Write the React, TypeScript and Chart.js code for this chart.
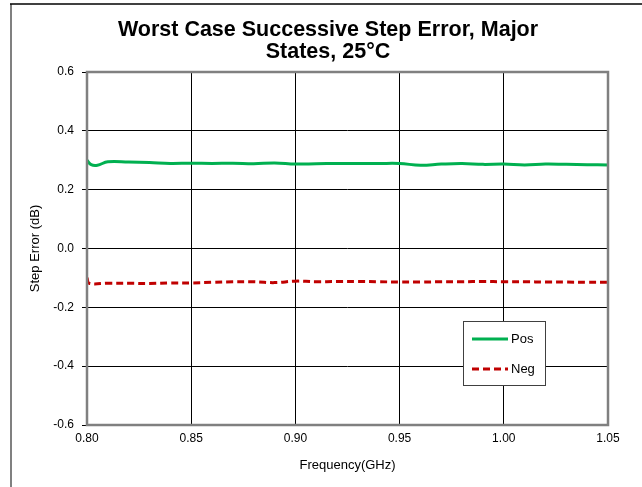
import React, { useEffect, useRef } from "react";
import { Chart, registerables } from "chart.js";

Chart.register(...registerables);

const titleLines = ["Worst Case Successive Step Error, Major", "States, 25°C"];
const xTicks = [0.8, 0.85, 0.9, 0.95, 1.0, 1.05];
const yTicks = [-0.6, -0.4, -0.2, 0.0, 0.2, 0.4, 0.6];

const freqPos = [0.8, 0.802, 0.805, 0.81, 0.82, 0.83, 0.84, 0.85, 0.86, 0.87, 0.88, 0.89, 0.9, 0.91, 0.92, 0.93, 0.94, 0.95, 0.96, 0.97, 0.98, 0.99, 1.0, 1.01, 1.02, 1.03, 1.04, 1.05];
const posValues = [0.3, 0.285, 0.283, 0.295, 0.294, 0.292, 0.289, 0.29, 0.289, 0.29, 0.288, 0.291, 0.287, 0.288, 0.289, 0.289, 0.289, 0.289, 0.283, 0.287, 0.289, 0.286, 0.287, 0.284, 0.287, 0.286, 0.285, 0.284];

const freqNeg = [0.8, 0.801, 0.81, 0.82, 0.83, 0.84, 0.85, 0.86, 0.87, 0.88, 0.89, 0.9, 0.91, 0.92, 0.93, 0.94, 0.95, 0.96, 0.97, 0.98, 0.99, 1.0, 1.01, 1.02, 1.03, 1.04, 1.05];
const negValues = [-0.1, -0.118, -0.118, -0.118, -0.119, -0.117, -0.117, -0.115, -0.113, -0.113, -0.116, -0.111, -0.113, -0.112, -0.112, -0.113, -0.114, -0.114, -0.113, -0.113, -0.112, -0.113, -0.113, -0.114, -0.114, -0.115, -0.115];

const seriesNames = ["Pos", "Neg"];
const seriesColors = ["#00B050", "#C00000"];

const FONT = "'Liberation Sans', Arial, sans-serif";

const framePlugin = {
  id: "frame",
  beforeDraw(chart: any) {
    const { ctx, width, height } = chart;
    ctx.save();
    ctx.fillStyle = "#fff";
    ctx.fillRect(0, 0, width, height);
    ctx.strokeStyle = "#808080";
    ctx.lineWidth = 2;
    ctx.beginPath();
    ctx.moveTo(11, 4);
    ctx.lineTo(11, height);
    ctx.stroke();
    ctx.strokeStyle = "#000";
    ctx.lineWidth = 1.5;
    ctx.beginPath();
    ctx.moveTo(10, 4);
    ctx.lineTo(width, 4);
    ctx.stroke();
    // title
    ctx.fillStyle = "#000";
    ctx.font = `bold 21.5px ${FONT}`;
    ctx.textAlign = "center";
    ctx.textBaseline = "middle";
    ctx.fillText(titleLines[0], 328, 30);
    ctx.fillText(titleLines[1], 328, 52);
    ctx.restore();
  },
  afterDatasetsDraw(chart: any) {
    const { ctx, chartArea } = chart;
    const { left, right, top, bottom } = chartArea;
    ctx.save();
    ctx.strokeStyle = "#808080";
    ctx.lineWidth = 2.5;
    ctx.strokeRect(left, top, right - left, bottom - top);
    // legend box
    const bx = 463, by = 321, bw = 82, bh = 64;
    ctx.fillStyle = "#fff";
    ctx.fillRect(bx, by, bw, bh);
    ctx.strokeStyle = "#404040";
    ctx.lineWidth = 1;
    ctx.strokeRect(bx + 0.5, by + 0.5, bw, bh);
    const rows = [339, 369];
    ctx.font = `13px ${FONT}`;
    ctx.textBaseline = "middle";
    ctx.textAlign = "left";
    rows.forEach((ry, i) => {
      ctx.strokeStyle = seriesColors[i];
      ctx.lineWidth = 3;
      ctx.setLineDash(i === 1 ? [7, 4] : []);
      ctx.beginPath();
      ctx.moveTo(472, ry);
      ctx.lineTo(508, ry);
      ctx.stroke();
      ctx.setLineDash([]);
      ctx.fillStyle = "#000";
      ctx.fillText(seriesNames[i], 511, ry);
    });
    ctx.restore();
  },
};

export default function App() {
  const ref = useRef<HTMLCanvasElement>(null);
  useEffect(() => {
    if (!ref.current) return;
    const chart = new Chart(ref.current, {
      type: "line",
      data: {
        datasets: [
          {
            label: seriesNames[0],
            data: freqPos.map((x, i) => ({ x, y: posValues[i] })),
            borderColor: seriesColors[0],
            borderWidth: 3,
            pointRadius: 0,
            tension: 0.4,
            fill: false,
          },
          {
            label: seriesNames[1],
            data: freqNeg.map((x, i) => ({ x, y: negValues[i] })),
            borderColor: seriesColors[1],
            borderWidth: 3,
            borderDash: [7, 4],
            pointRadius: 0,
            tension: 0.4,
            fill: false,
          },
        ],
      },
      options: {
        animation: false,
        responsive: false,
        devicePixelRatio: 1,
        layout: { padding: { top: 72, right: 34, left: 26, bottom: 10 } },
        plugins: {
          legend: { display: false },
          tooltip: { enabled: false },
          title: { display: false },
        },
        scales: {
          x: {
            type: "linear",
            min: 0.8,
            max: 1.05,
            afterBuildTicks(axis: any) {
              axis.ticks = xTicks.map((v) => ({ value: v }));
            },
            afterFit(axis: any) {
              axis.height = 52;
            },
            ticks: {
              color: "#000",
              font: { family: FONT, size: 12 },
              padding: 6,
              maxRotation: 0,
              callback: (v: any) => Number(v).toFixed(2),
            },
            grid: { color: "#000", lineWidth: 1, drawTicks: false },
            border: { display: false },
            title: {
              display: true,
              text: "Frequency(GHz)",
              color: "#000",
              font: { family: FONT, size: 13 },
              padding: { top: 2, bottom: 4 },
            },
          },
          y: {
            type: "linear",
            min: -0.6,
            max: 0.6,
            afterBuildTicks(axis: any) {
              axis.ticks = yTicks.map((v) => ({ value: v }));
            },
            afterFit(axis: any) {
              axis.width = 61;
            },
            ticks: {
              color: "#000",
              font: { family: FONT, size: 12 },
              padding: 8,
              callback: (v: any) => Number(v).toFixed(1),
            },
            grid: { color: "#000", lineWidth: 1, tickLength: 5 },
            border: { display: false },
            title: {
              display: true,
              text: "Step Error (dB)",
              color: "#000",
              font: { family: FONT, size: 13 },
              padding: { top: 2, bottom: 4 },
            },
          },
        },
      },
      plugins: [framePlugin],
    });
    return () => chart.destroy();
  }, []);
  return (
    <div style={{ position: "fixed", left: 0, top: 0, width: 642, height: 487 }}>
      <canvas ref={ref} width={642} height={487} style={{ width: 642, height: 487 }} />
    </div>
  );
}
